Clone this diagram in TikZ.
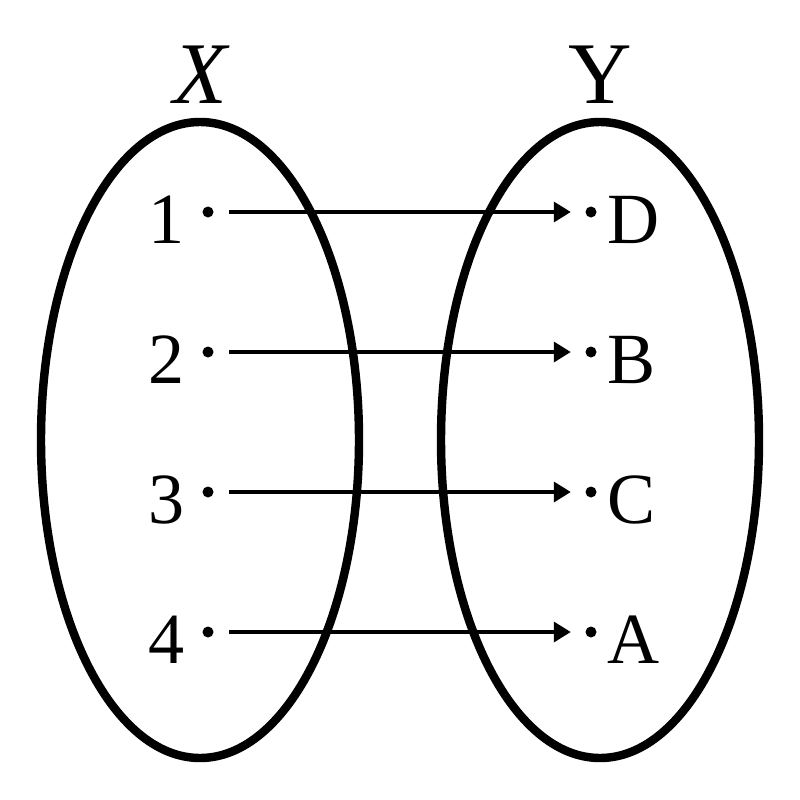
\documentclass[tikz,border=0pt]{standalone}
\usepackage{fontspec}
\setmainfont{Liberation Serif}
\usetikzlibrary{arrows.meta}
\begin{document}
\begin{tikzpicture}[x=0.01cm,y=-0.01cm,
  setline/.style={line width=2.4pt},
  elem/.style={circle,fill=black,inner sep=0pt,minimum size=0.11cm},
  lab/.style={inner sep=0pt,font=\fontsize{20.5pt}{22pt}\selectfont},
  title/.style={inner sep=0pt,anchor=base,font=\fontsize{25pt}{27pt}\selectfont},
  maparrow/.style={line width=1pt,-{Triangle[length=0.17cm,width=0.2cm]},shorten <=0.15cm,shorten >=0.14cm}]
\useasboundingbox (0,0) rectangle (800,800);
\draw[setline] (200,440) ellipse [x radius=159,y radius=318];
\draw[setline] (600,440) ellipse [x radius=159,y radius=318];
\node[title] (tx) at (200,103) {\itshape X};
\node[title] (ty) at (600,103) {Y};
\foreach \i/\l/\r [count=\k from 0] in {1/1/D,2/2/B,3/3/C,4/4/A}{
  \pgfmathsetmacro{\yy}{212+140*\k}
  \node[elem] (a\i) at (208,\yy) {};
  \node[elem] (b\i) at (591,\yy) {};
  \node[lab,anchor=base east] (la\i) at (185,\yy+31) {\l};
  \node[lab,anchor=base west] (lb\i) at (607,\yy+31) {\r};
  \draw[maparrow] (a\i) -- (b\i);
}
\end{tikzpicture}
\end{document}
